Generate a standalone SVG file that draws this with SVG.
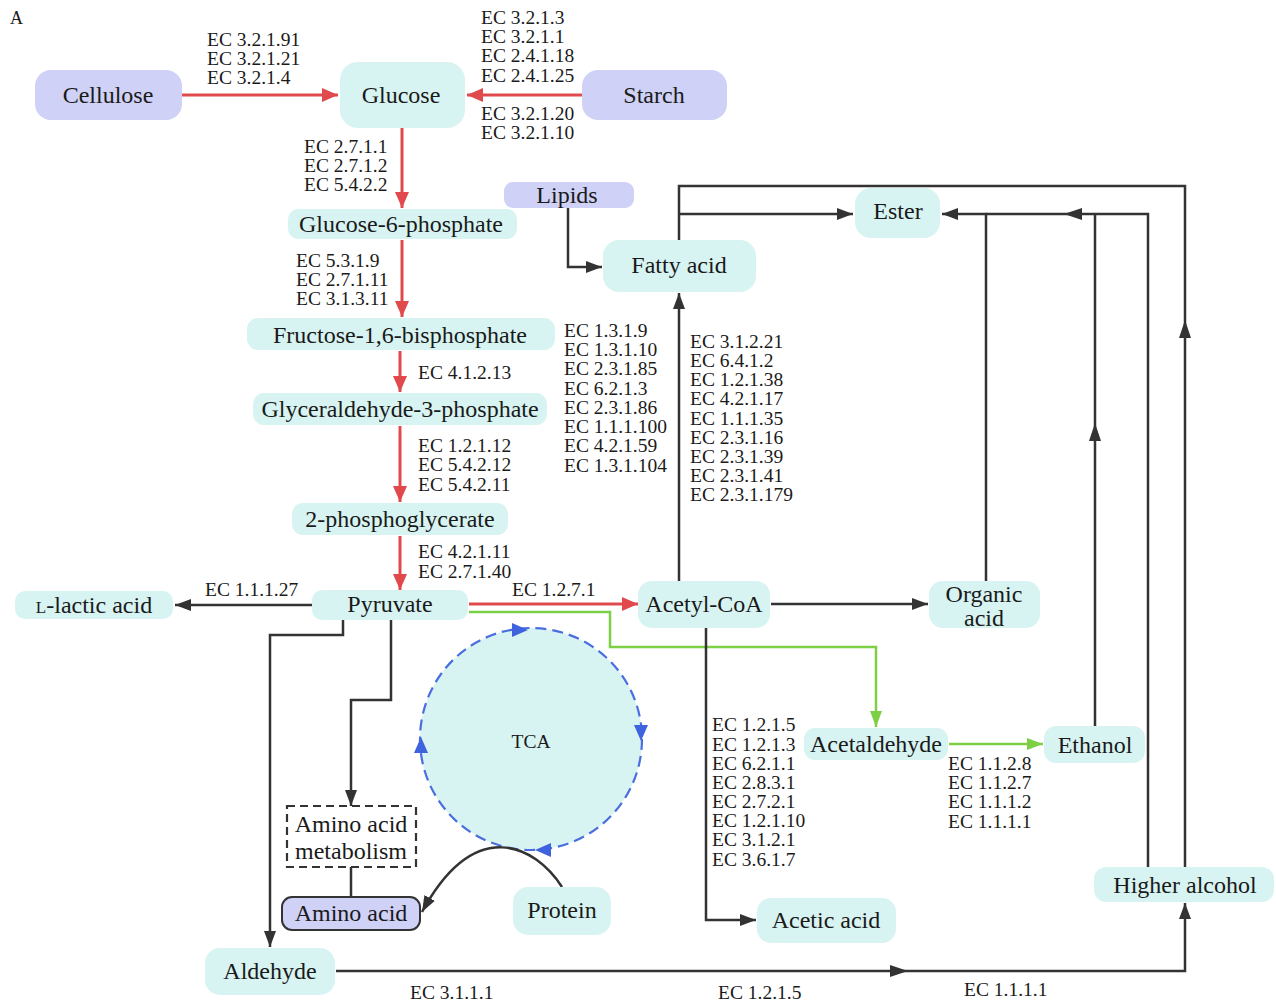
<svg xmlns="http://www.w3.org/2000/svg" width="1276" height="1003" viewBox="0 0 1276 1003">
<style>
.t{fill:#d8f4f2}
.l{fill:#cfd1f6}
.nl{font-family:"Liberation Serif","Times New Roman",serif;font-size:24px;fill:#1a1a1a;text-anchor:middle}
.ec{font-family:"Liberation Serif","Times New Roman",serif;font-size:19.5px;fill:#1a1a1a}
.r{stroke:#e04a4d;stroke-width:3;fill:none}
.d{stroke:#333;stroke-width:2.5;fill:none}
.g{stroke:#7dcf45;stroke-width:2.5;fill:none}
.ah{fill:#333}
.bh{fill:#3f62de}
</style>
<defs>
<marker id="ar" markerUnits="userSpaceOnUse" markerWidth="16" markerHeight="14" refX="16" refY="7" orient="auto"><path d="M0,0 L16,7 L0,14 z" fill="#e04a4d"/></marker>
<marker id="ad" markerUnits="userSpaceOnUse" markerWidth="16" markerHeight="12" refX="16" refY="6" orient="auto"><path d="M0,0 L16,6 L0,12 z" fill="#333"/></marker>
<marker id="ag" markerUnits="userSpaceOnUse" markerWidth="16" markerHeight="12" refX="16" refY="6" orient="auto"><path d="M0,0 L16,6 L0,12 z" fill="#7dcf45"/></marker>
</defs>
<rect width="1276" height="1003" fill="#fff"/>
<text x="10" y="24" class="ec" style="font-size:18px">A</text>

<g id="tca">
<circle cx="531" cy="739" r="111" fill="#d8f4f2" stroke="#4a6ee0" stroke-width="2.2" stroke-dasharray="11 6"/>
<polygon class="bh" points="528,630 512,623 512,637"/>
<polygon class="bh" points="641,741 634,725 648,725"/>
<polygon class="bh" points="535,850 551,843 551,857"/>
<polygon class="bh" points="421,737 414,753 428,753"/>
<text x="531" y="748" class="ec" text-anchor="middle">TCA</text>
</g>

<g id="connectors">
<line class="r" x1="182" y1="95" x2="338" y2="95" marker-end="url(#ar)"/>
<line class="r" x1="582" y1="95" x2="467" y2="95" marker-end="url(#ar)"/>
<line class="r" x1="402" y1="128" x2="402" y2="208" marker-end="url(#ar)"/>
<line class="r" x1="402" y1="240" x2="402" y2="317" marker-end="url(#ar)"/>
<line class="r" x1="400" y1="351" x2="400" y2="392" marker-end="url(#ar)"/>
<line class="r" x1="400" y1="426" x2="400" y2="502" marker-end="url(#ar)"/>
<line class="r" x1="400" y1="536" x2="400" y2="590" marker-end="url(#ar)"/>
<line class="r" x1="469" y1="604" x2="638" y2="604" marker-end="url(#ar)"/>
<path class="g" d="M469,612 H610 V647 H876 V727" marker-end="url(#ag)"/>
<line class="g" x1="949" y1="744" x2="1043" y2="744" marker-end="url(#ag)"/>
<line class="d" x1="312" y1="605" x2="175" y2="605" marker-end="url(#ad)"/>
<path class="d" d="M343,620 V635 H270 V947" marker-end="url(#ad)"/>
<path class="d" d="M391,620 V700 H351 V806" marker-end="url(#ad)"/>
<line class="d" x1="351" y1="867" x2="351" y2="897"/>
<path class="d" d="M562,887 C535,845 475,815 422,912" marker-end="url(#ad)"/>
<path class="d" d="M568,208 V267 H602" marker-end="url(#ad)"/>
<line class="d" x1="679" y1="581" x2="679" y2="293" marker-end="url(#ad)"/>
<path class="d" d="M1185,867 V186 H679 V240"/>
<polygon class="ah" points="1185,320 1179,338 1191,338"/>
<line class="d" x1="679" y1="214" x2="853" y2="214" marker-end="url(#ad)"/>
<line class="d" x1="771" y1="604" x2="928" y2="604" marker-end="url(#ad)"/>
<path class="d" d="M986,581 V214 H942" marker-end="url(#ad)"/>
<path class="d" d="M1148,867 V214 H986"/>
<line class="d" x1="1095" y1="726" x2="1095" y2="214"/>
<polygon class="ah" points="1095,423 1089,441 1101,441"/>
<polygon class="ah" points="1064,214 1082,208 1082,220"/>
<path class="d" d="M706,628 V920 H756" marker-end="url(#ad)"/>
<path class="d" d="M336,971 H1185 V903" marker-end="url(#ad)"/>
<polygon class="ah" points="908,971 890,965 890,977"/>
</g>

<g id="cellulose"><rect class="l" x="35" y="70" width="147" height="50" rx="16"/><text class="nl" x="108" y="103">Cellulose</text></g>
<g id="glucose"><rect class="t" x="340" y="62" width="125" height="66" rx="18"/><text class="nl" x="401" y="103">Glucose</text></g>
<g id="starch"><rect class="l" x="582" y="70" width="145" height="50" rx="16"/><text class="nl" x="654" y="103">Starch</text></g>
<g id="g6p"><rect class="t" x="288" y="209" width="229" height="30" rx="10"/><text class="nl" x="401" y="232">Glucose-6-phosphate</text></g>
<g id="lipids"><rect class="l" x="504" y="182" width="130" height="26" rx="9"/><text class="nl" x="567" y="203">Lipids</text></g>
<g id="fatty"><rect class="t" x="603" y="240" width="153" height="52" rx="16"/><text class="nl" x="679" y="273">Fatty acid</text></g>
<g id="ester"><rect class="t" x="855" y="188" width="85" height="50" rx="16"/><text class="nl" x="898" y="219">Ester</text></g>
<g id="f16bp"><rect class="t" x="247" y="318" width="308" height="32" rx="11"/><text class="nl" x="400" y="343">Fructose-1,6-bisphosphate</text></g>
<g id="g3p"><rect class="t" x="253" y="393" width="294" height="32" rx="11"/><text class="nl" x="400" y="417">Glyceraldehyde-3-phosphate</text></g>
<g id="pg2"><rect class="t" x="292" y="503" width="216" height="32" rx="11"/><text class="nl" x="400" y="527">2-phosphoglycerate</text></g>
<g id="lactic"><rect class="t" x="15" y="591" width="158" height="28" rx="10"/><text class="nl" x="94" y="613"><tspan font-size="17">L</tspan>-lactic acid</text></g>
<g id="pyruvate"><rect class="t" x="312" y="590" width="156" height="30" rx="10"/><text class="nl" x="390" y="612">Pyruvate</text></g>
<g id="acetylcoa"><rect class="t" x="638" y="581" width="132" height="47" rx="14"/><text class="nl" x="704" y="612">Acetyl-CoA</text></g>
<g id="organic"><rect class="t" x="929" y="581" width="111" height="47" rx="14"/><text class="nl" x="984" y="602">Organic</text><text class="nl" x="984" y="626">acid</text></g>
<g id="acetaldehyde"><rect class="t" x="804" y="728" width="144" height="32" rx="11"/><text class="nl" x="876" y="752">Acetaldehyde</text></g>
<g id="ethanol"><rect class="t" x="1044" y="726" width="101" height="37" rx="12"/><text class="nl" x="1095" y="753">Ethanol</text></g>
<g id="aam"><rect x="287" y="806" width="129" height="61" fill="#fff" stroke="#333" stroke-width="2.2" stroke-dasharray="8 5"/><text class="nl" x="351" y="832">Amino acid</text><text class="nl" x="351" y="859">metabolism</text></g>
<g id="aminoacid"><rect x="282" y="897" width="138" height="33" rx="10" fill="#cfd1f6" stroke="#333" stroke-width="2"/><text class="nl" x="351" y="921">Amino acid</text></g>
<g id="protein"><rect class="t" x="513" y="887" width="98" height="48" rx="15"/><text class="nl" x="562" y="918">Protein</text></g>
<g id="aldehyde"><rect class="t" x="205" y="948" width="130" height="47" rx="15"/><text class="nl" x="270" y="979">Aldehyde</text></g>
<g id="acetic"><rect class="t" x="757" y="898" width="139" height="45" rx="14"/><text class="nl" x="826" y="928">Acetic acid</text></g>
<g id="higher"><rect class="t" x="1094" y="867" width="180" height="35" rx="12"/><text class="nl" x="1185" y="893">Higher alcohol</text></g>

<g id="labels" class="ec">
<text x="207" y="46">EC 3.2.1.91</text><text x="207" y="65">EC 3.2.1.21</text><text x="207" y="84">EC 3.2.1.4</text>
<text x="481" y="24">EC 3.2.1.3</text><text x="481" y="43">EC 3.2.1.1</text><text x="481" y="62">EC 2.4.1.18</text><text x="481" y="82">EC 2.4.1.25</text>
<text x="481" y="120">EC 3.2.1.20</text><text x="481" y="139">EC 3.2.1.10</text>
<text x="304" y="153">EC 2.7.1.1</text><text x="304" y="172">EC 2.7.1.2</text><text x="304" y="191">EC 5.4.2.2</text>
<text x="296" y="267">EC 5.3.1.9</text><text x="296" y="286">EC 2.7.1.11</text><text x="296" y="305">EC 3.1.3.11</text>
<text x="418" y="379">EC 4.1.2.13</text>
<text x="418" y="452">EC 1.2.1.12</text><text x="418" y="471">EC 5.4.2.12</text><text x="418" y="491">EC 5.4.2.11</text>
<text x="418" y="558">EC 4.2.1.11</text><text x="418" y="578">EC 2.7.1.40</text>
<text x="564" y="337">EC 1.3.1.9</text><text x="564" y="356">EC 1.3.1.10</text><text x="564" y="375">EC 2.3.1.85</text><text x="564" y="395">EC 6.2.1.3</text><text x="564" y="414">EC 2.3.1.86</text><text x="564" y="433">EC 1.1.1.100</text><text x="564" y="452">EC 4.2.1.59</text><text x="564" y="472">EC 1.3.1.104</text>
<text x="690" y="348">EC 3.1.2.21</text><text x="690" y="367">EC 6.4.1.2</text><text x="690" y="386">EC 1.2.1.38</text><text x="690" y="405">EC 4.2.1.17</text><text x="690" y="425">EC 1.1.1.35</text><text x="690" y="444">EC 2.3.1.16</text><text x="690" y="463">EC 2.3.1.39</text><text x="690" y="482">EC 2.3.1.41</text><text x="690" y="501">EC 2.3.1.179</text>
<text x="205" y="596">EC 1.1.1.27</text>
<text x="512" y="596">EC 1.2.7.1</text>
<text x="712" y="731">EC 1.2.1.5</text><text x="712" y="751">EC 1.2.1.3</text><text x="712" y="770">EC 6.2.1.1</text><text x="712" y="789">EC 2.8.3.1</text><text x="712" y="808">EC 2.7.2.1</text><text x="712" y="827">EC 1.2.1.10</text><text x="712" y="846">EC 3.1.2.1</text><text x="712" y="866">EC 3.6.1.7</text>
<text x="948" y="770">EC 1.1.2.8</text><text x="948" y="789">EC 1.1.2.7</text><text x="948" y="808">EC 1.1.1.2</text><text x="948" y="828">EC 1.1.1.1</text>
<text x="410" y="999">EC 3.1.1.1</text>
<text x="718" y="999">EC 1.2.1.5</text>
<text x="964" y="996">EC 1.1.1.1</text>
</g>
</svg>
